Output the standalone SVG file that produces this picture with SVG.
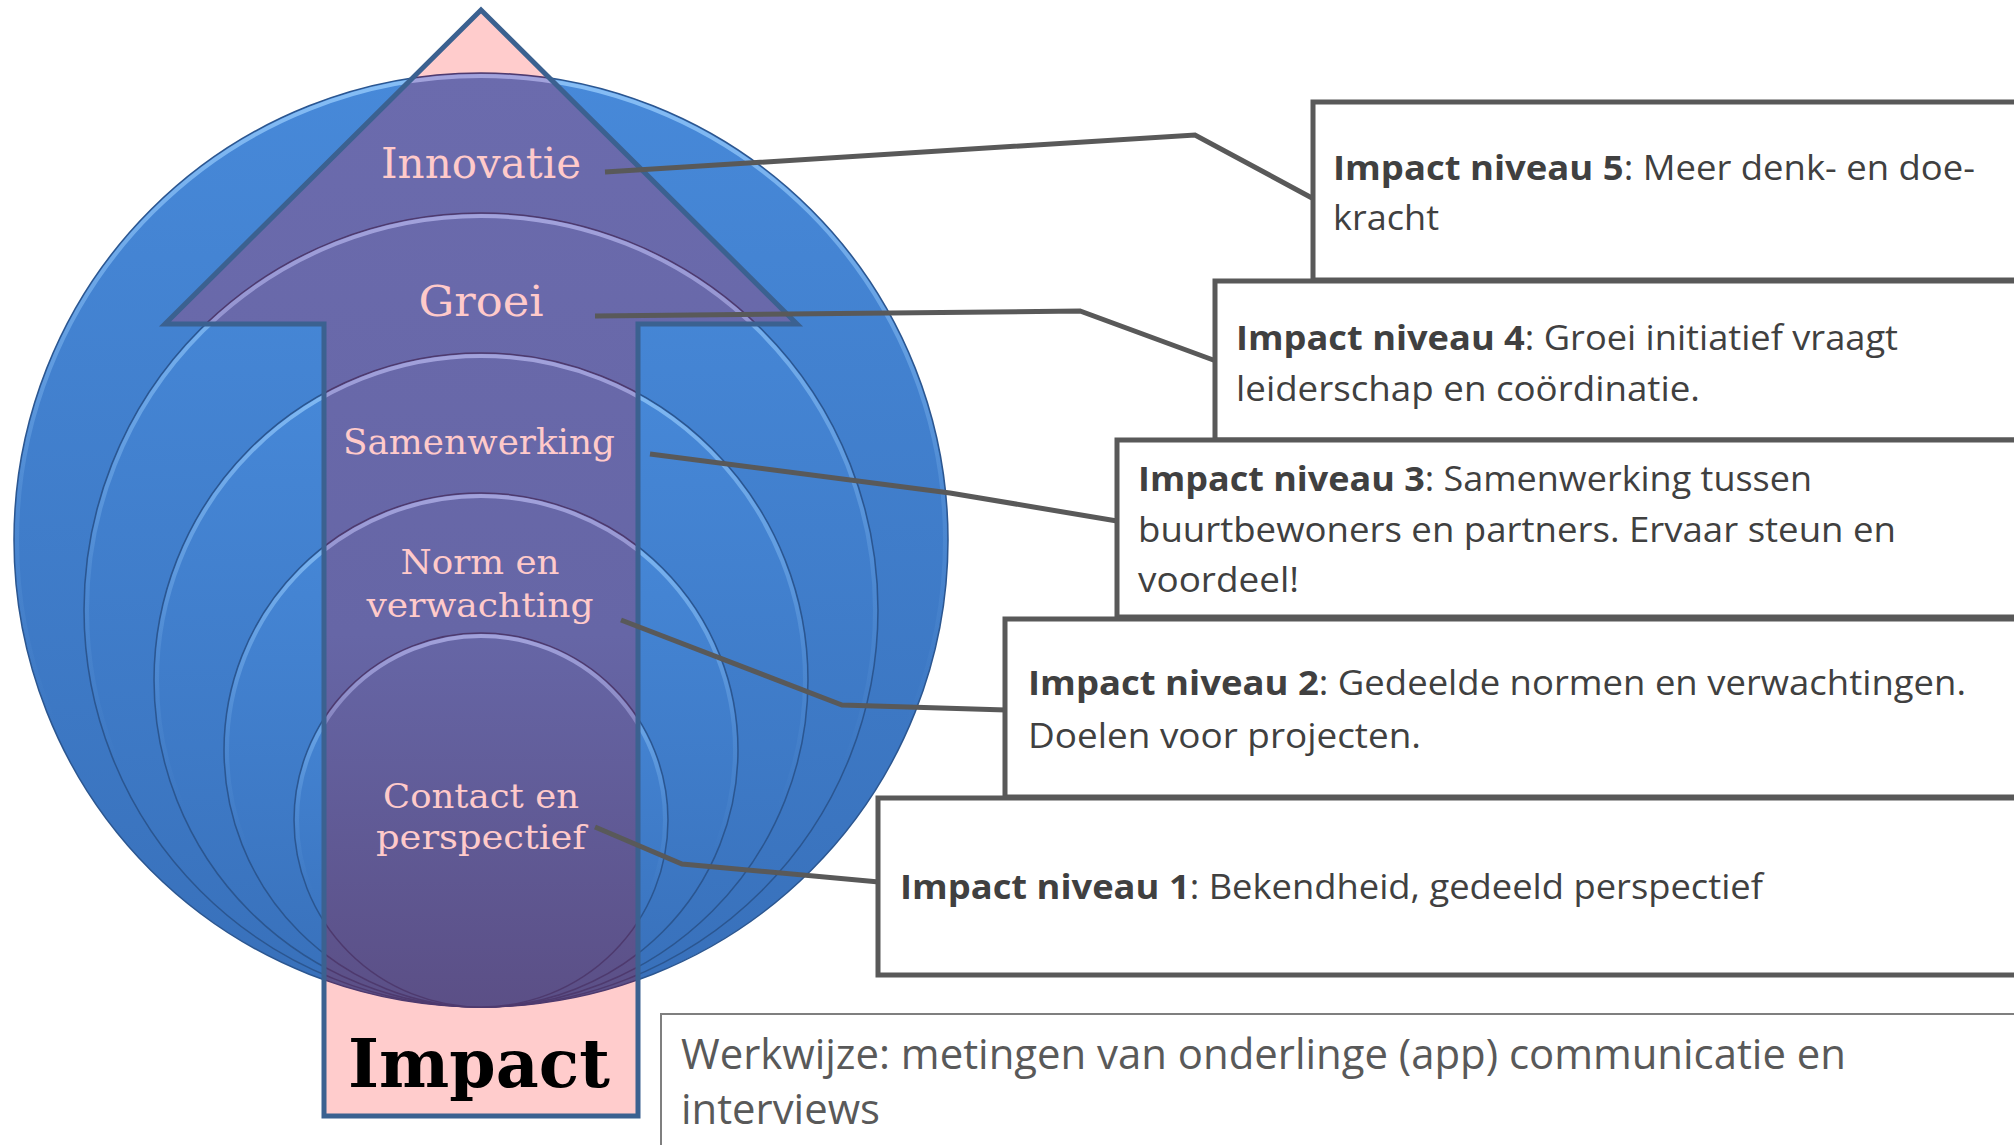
<svg xmlns="http://www.w3.org/2000/svg" width="2014" height="1145" viewBox="0 0 2014 1145">
<defs>
<style>
.bl{fill:url(#gBlue);stroke:#2b5690;stroke-width:1.5}
.pu{fill:url(#gPurple);stroke:#4e3a6e;stroke-width:1.5}
.hl{fill:none;stroke:url(#gHl);stroke-width:4}
.hlp{fill:none;stroke:url(#gHlp);stroke-width:4}
.arr{font-family:"DejaVu Serif","Liberation Serif",serif;fill:#ffcaca;text-anchor:middle}
.con{fill:none;stroke:#595959;stroke-width:5;stroke-linejoin:miter}
.box{fill:#ffffff;stroke:#595959;stroke-width:5}
.bt{font-family:"Open Sans","Noto Sans","Liberation Sans",sans-serif;font-size:34px;fill:#404040}
.bt tspan.b{font-weight:bold}
.ww{font-family:"Open Sans","Noto Sans","Liberation Sans",sans-serif;font-size:42px;fill:#595959}
</style>
<linearGradient id="gBlue" x1="0" y1="0" x2="0" y2="1">
<stop offset="0" stop-color="#4789d9"/>
<stop offset="1" stop-color="#3870ba"/>
</linearGradient>
<linearGradient id="gPurple" gradientUnits="userSpaceOnUse" x1="0" y1="70" x2="0" y2="1010">
<stop offset="0" stop-color="#6b6bad"/>
<stop offset="0.6" stop-color="#6666a6"/>
<stop offset="1" stop-color="#5b4f86"/>
</linearGradient>
<linearGradient id="gHl" x1="0" y1="0" x2="0" y2="1">
<stop offset="0" stop-color="#9cd0ff" stop-opacity="0.75"/>
<stop offset="0.45" stop-color="#9cd0ff" stop-opacity="0.15"/>
<stop offset="0.7" stop-color="#9cd0ff" stop-opacity="0"/>
</linearGradient>
<linearGradient id="gHlp" x1="0" y1="0" x2="0" y2="1">
<stop offset="0" stop-color="#b0b0e8" stop-opacity="0.8"/>
<stop offset="0.45" stop-color="#b0b0e8" stop-opacity="0.15"/>
<stop offset="0.7" stop-color="#b0b0e8" stop-opacity="0"/>
</linearGradient>
<clipPath id="arrowClip">
<polygon points="481,10 797,324 638,324 638,1116 324,1116 324,324 165,324"/>
</clipPath>
</defs>

<g id="circles">
<circle class="bl" cx="481" cy="540" r="467"/>
<circle class="hl" cx="481" cy="540" r="464"/>
<circle class="bl" cx="481" cy="610" r="397"/>
<circle class="hl" cx="481" cy="610" r="394"/>
<circle class="bl" cx="481" cy="680" r="327"/>
<circle class="hl" cx="481" cy="680" r="324"/>
<circle class="bl" cx="481" cy="750" r="257"/>
<circle class="hl" cx="481" cy="750" r="254"/>
<circle class="bl" cx="481" cy="820" r="187"/>
<circle class="hl" cx="481" cy="820" r="184"/>
</g>

<g id="arrow">
<polygon points="481,10 797,324 638,324 638,1116 324,1116 324,324 165,324" fill="#ffcccc"/>
<g clip-path="url(#arrowClip)">
<circle class="pu" cx="481" cy="540" r="467"/>
<circle class="hlp" cx="481" cy="540" r="464"/>
<circle class="pu" cx="481" cy="610" r="397"/>
<circle class="hlp" cx="481" cy="610" r="394"/>
<circle class="pu" cx="481" cy="680" r="327"/>
<circle class="hlp" cx="481" cy="680" r="324"/>
<circle class="pu" cx="481" cy="750" r="257"/>
<circle class="hlp" cx="481" cy="750" r="254"/>
<circle class="pu" cx="481" cy="820" r="187"/>
<circle class="hlp" cx="481" cy="820" r="184"/>
</g>
<polygon points="481,10 797,324 638,324 638,1116 324,1116 324,324 165,324" fill="none" stroke="#3b6190" stroke-width="5"/>
</g>

<g id="arrow-labels">
<text class="arr" x="481" y="178" font-size="43" textLength="200" lengthAdjust="spacingAndGlyphs">Innovatie</text>
<text class="arr" x="481" y="316" font-size="42" textLength="125" lengthAdjust="spacingAndGlyphs">Groei</text>
<text class="arr" x="479" y="454" font-size="36" textLength="272" lengthAdjust="spacingAndGlyphs">Samenwerking</text>
<text class="arr" x="480" y="574" font-size="34" textLength="159" lengthAdjust="spacingAndGlyphs">Norm en</text>
<text class="arr" x="480" y="617" font-size="34" textLength="227" lengthAdjust="spacingAndGlyphs">verwachting</text>
<text class="arr" x="481" y="808" font-size="34" textLength="196" lengthAdjust="spacingAndGlyphs">Contact en</text>
<text class="arr" x="481" y="849" font-size="34" textLength="210" lengthAdjust="spacingAndGlyphs">perspectief</text>
<text class="arr" x="479" y="1087" font-size="68" font-weight="bold" fill="#000000" style="fill:#000000" textLength="262" lengthAdjust="spacingAndGlyphs">Impact</text>
</g>

<g id="connectors">
<polyline class="con" points="605,172 1195,135 1312,198"/>
<polyline class="con" points="595,316 1080,311 1216,361"/>
<polyline class="con" points="650,454 950,493 1117,521"/>
<polyline class="con" points="621,620 842,705 1006,710"/>
<polyline class="con" points="595,827 682,864 879,882"/>
</g>

<g id="box5">
<rect class="box" x="1313" y="102" width="760" height="178"/>
<text class="bt" x="1333" y="180" textLength="642" lengthAdjust="spacingAndGlyphs"><tspan class="b">Impact niveau 5</tspan>: Meer denk- en doe-</text>
<text class="bt" x="1333" y="230" textLength="106" lengthAdjust="spacingAndGlyphs">kracht</text>
</g>
<g id="box4">
<rect class="box" x="1215" y="281" width="860" height="159"/>
<text class="bt" x="1236" y="350" textLength="662" lengthAdjust="spacingAndGlyphs"><tspan class="b">Impact niveau 4</tspan>: Groei initiatief vraagt</text>
<text class="bt" x="1236" y="401" textLength="464" lengthAdjust="spacingAndGlyphs">leiderschap en coördinatie.</text>
</g>
<g id="box3">
<rect class="box" x="1117" y="440" width="960" height="177"/>
<text class="bt" x="1138" y="491" textLength="674" lengthAdjust="spacingAndGlyphs"><tspan class="b">Impact niveau 3</tspan>: Samenwerking tussen</text>
<text class="bt" x="1138" y="542" textLength="758" lengthAdjust="spacingAndGlyphs">buurtbewoners en partners. Ervaar steun en</text>
<text class="bt" x="1138" y="592" textLength="161" lengthAdjust="spacingAndGlyphs">voordeel!</text>
</g>
<g id="box2">
<rect class="box" x="1005" y="619" width="1070" height="178"/>
<text class="bt" x="1028" y="695" textLength="938" lengthAdjust="spacingAndGlyphs"><tspan class="b">Impact niveau 2</tspan>: Gedeelde normen en verwachtingen.</text>
<text class="bt" x="1028" y="748" textLength="393" lengthAdjust="spacingAndGlyphs">Doelen voor projecten.</text>
</g>
<g id="box1">
<rect class="box" x="878" y="798" width="1200" height="177"/>
<text class="bt" x="900" y="899" textLength="863" lengthAdjust="spacingAndGlyphs"><tspan class="b">Impact niveau 1</tspan>: Bekendheid, gedeeld perspectief</text>
</g>
<g id="werkwijze">
<rect x="661" y="1014" width="1400" height="160" fill="#ffffff" stroke="#7f7f7f" stroke-width="2"/>
<text class="ww" x="681" y="1069" textLength="1165" lengthAdjust="spacingAndGlyphs">Werkwijze: metingen van onderlinge (app) communicatie en</text>
<text class="ww" x="681" y="1124" textLength="199" lengthAdjust="spacingAndGlyphs">interviews</text>
</g>
</svg>
